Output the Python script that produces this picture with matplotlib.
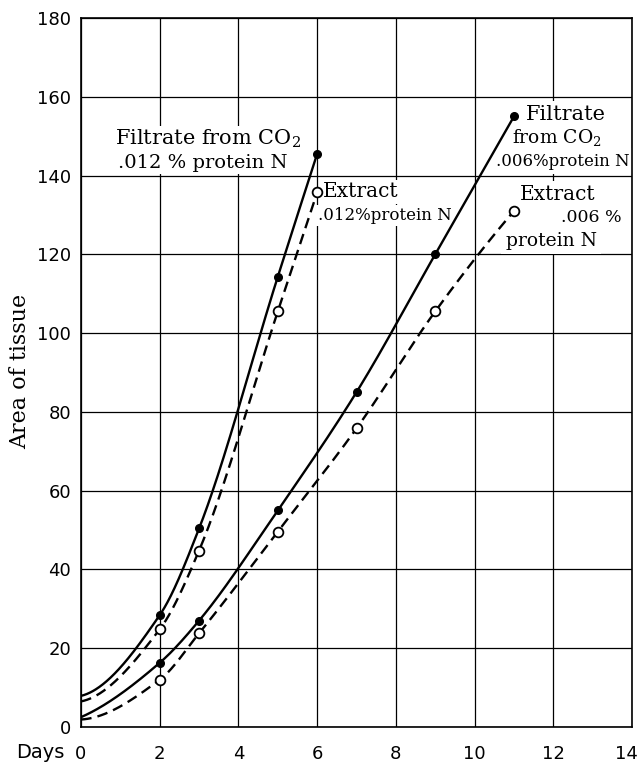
import numpy as np
import matplotlib
matplotlib.use("Agg")
import matplotlib.pyplot as plt
from matplotlib.transforms import ScaledTranslation
from matplotlib.patches import Rectangle

plt.rcParams['mathtext.fontset'] = 'dejavuserif'

# ---- data ----
days_012 = [2, 3, 5, 6]
filtrate_012 = [28.4, 50.4, 114.3, 145.5]
extract_012 = [24.8, 44.8, 105.5, 135.7]
days_006 = [2, 3, 5, 7, 9, 11]
filtrate_006 = [16.3, 27.0, 55.0, 85.0, 120.0, 155.0]
extract_006 = [12.0, 23.8, 49.6, 75.8, 105.5, 131.0]
# value of each smooth curve at day 0 (curve start, no marker)
start_values = {"filtrate_012": 7.9, "extract_012": 6.5,
                "filtrate_006": 2.5, "extract_006": 1.9}
x_ticks = [0, 2, 4, 6, 8, 10, 12, 14]
y_ticks = [0, 20, 40, 60, 80, 100, 120, 140, 160, 180]


def pchip(x, y, xs):
    x = np.asarray(x, float); y = np.asarray(y, float)
    n = len(x)
    h = np.diff(x); d = np.diff(y) / h
    m = np.zeros(n)
    for k in range(1, n - 1):
        if d[k - 1] * d[k] > 0:
            w1 = 2 * h[k] + h[k - 1]; w2 = h[k] + 2 * h[k - 1]
            m[k] = (w1 + w2) / (w1 / d[k - 1] + w2 / d[k])

    def end(h0, h1, d0, d1):
        v = ((2 * h0 + h1) * d0 - h0 * d1) / (h0 + h1)
        if np.sign(v) != np.sign(d0):
            return 0.0
        if np.sign(d0) != np.sign(d1) and abs(v) > 3 * abs(d0):
            return 3 * d0
        return v
    m[0] = end(h[0], h[1], d[0], d[1])
    m[-1] = end(h[-1], h[-2], d[-1], d[-2])
    out = np.empty_like(xs)
    for j, xv in enumerate(xs):
        i = min(max(np.searchsorted(x, xv) - 1, 0), n - 2)
        t = (xv - x[i]) / h[i]
        h00 = 2 * t**3 - 3 * t**2 + 1; h10 = t**3 - 2 * t**2 + t
        h01 = -2 * t**3 + 3 * t**2; h11 = t**3 - t**2
        out[j] = h00 * y[i] + h10 * h[i] * m[i] + h01 * y[i + 1] + h11 * h[i] * m[i + 1]
    return out


W, H = 639, 763
fig = plt.figure(figsize=(W / 100, H / 100), dpi=100)
ax = fig.add_axes([81 / W, 1 - 727 / H, (632 - 81) / W, (727 - 18) / H])
ax.set_xlim(0, 14)
ax.set_ylim(0, 180)
ax.set_xticks(x_ticks)
ax.set_yticks(y_ticks)
ax.grid(True, color='black', linewidth=0.9)
ax.set_axisbelow(True)
for s in ax.spines.values():
    s.set_linewidth(1.2)
tick_font = dict(family='DejaVu Sans', size=13)
ax.set_xticklabels([str(v) for v in x_ticks], **tick_font)
ax.set_yticklabels([str(v) for v in y_ticks], **tick_font)
ax.tick_params(axis='both', length=0)
ax.tick_params(axis='y', pad=7)
ax.tick_params(axis='x', pad=13)
last = ax.get_xticklabels()[-1]
last.set_transform(last.get_transform() + ScaledTranslation(-6 / 100, 0, fig.dpi_scale_trans))
fig.text(65 / W, 1 - 752 / H, "Days", ha='right', va='center', family='DejaVu Sans', size=14)
fig.text(20 / W, 1 - 371 / H, "Area of tissue", rotation=90, ha='center',
         va='center', family='DejaVu Serif', size=16)

series = [
    (days_012, filtrate_012, start_values["filtrate_012"], '-', 'filled'),
    (days_012, extract_012, start_values["extract_012"], '--', 'open'),
    (days_006, filtrate_006, start_values["filtrate_006"], '-', 'filled'),
    (days_006, extract_006, start_values["extract_006"], '--', 'open'),
]
for xs, ys, y0, ls, mk in series:
    xx = [0] + list(xs)
    yy = [y0] + list(ys)
    xf = np.linspace(0, xs[-1], 400)
    yf = pchip(xx, yy, xf)
    line, = ax.plot(xf, yf, color='black', lw=1.7, ls=ls, zorder=3)
    if ls == '--':
        line.set_dashes((4.5, 2.6))
    if mk == 'filled':
        ax.plot(xs, ys, 'o', ms=5.5, mfc='black', mec='black', zorder=4)
    else:
        ax.plot(xs, ys, 'o', ms=7, mfc='white', mec='black', mew=1.3, zorder=4)


def label(px, py, s, size=13, ha='center', pad=1.5):
    return ax.text(px / W, 1 - py / H, s, ha=ha, va='center',
                   transform=fig.transFigure, clip_on=False,
                   family='DejaVu Serif', size=size, zorder=2.5,
                   bbox=dict(facecolor='white', edgecolor='none', pad=pad))


# blank area behind the lower-right label block (grid interrupted there)
ax.add_patch(Rectangle((545 / W, 1 - 234 / H), 20 / W, 30 / H,
                       transform=fig.transFigure, facecolor='white',
                       edgecolor='none', zorder=2.4, clip_on=False))

label(208, 139, r"Filtrate from CO$_2$", 15)
label(203, 163, r".012 % protein N", 14)
label(323, 192, "Extract", 14.5, ha='left')
label(318, 215, ".012%protein N", 12, ha='left')
label(566, 115, "Filtrate", 15, pad=3)
label(557, 137, r"from CO$_2$", 13.5, pad=3)
label(563, 161, ".006%protein N", 12, pad=3)
label(558, 195, "Extract", 14.5, pad=3)
label(622, 218, ".006 %", 12.5, ha='right', pad=4)
label(551, 241, "protein N", 13.5, pad=3)

fig.savefig("out.png", dpi=100)
